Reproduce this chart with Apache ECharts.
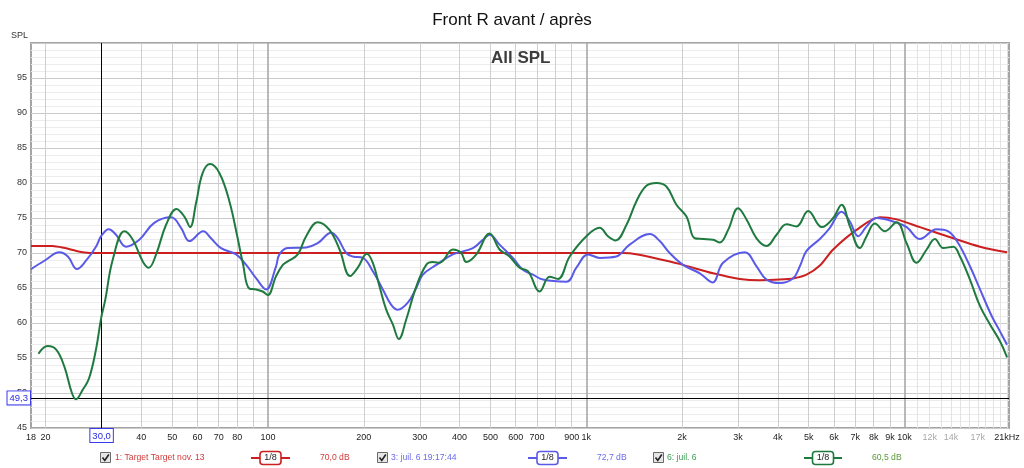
<!DOCTYPE html>
<html><head><meta charset="utf-8">
<script src="https://cdn.jsdelivr.net/npm/echarts@6/dist/echarts.min.js"></script>
<style>html,body{margin:0;padding:0;background:#fff}#c{width:1024px;height:468px}</style>
</head><body><div id="c"></div>
<script>
// ---- data (frequency Hz, SPL dB) ----
const redFreq = [18,21,23,25,27,30,1000,1300,1450,1700,2014,2503,3037,3500,4057,4500,4923,5420,5969,7070,8369,9445,11181,14230,17272,21000];
const redSPL  = [71.0,71.0,70.7,70.3,70.05,70.0,70.0,70.0,69.8,69.1,68.3,67.1,66.3,66.1,66.2,66.4,66.9,68.2,70.5,73.3,75.1,74.8,73.7,72.1,70.9,70.1];

const blueFreq = [18,20,22.1,23.5,25.1,26.8,28.8,29.9,31.6,33.3,35.8,39.4,43.9,49.6,53.3,56.6,62.6,66.2,71.2,79.4,85.4,91.7,98.6,106,108.6,115.3,131.8,143.3,158,165.7,176.1,184.7,198.6,213.5,229.5,243.9,255.8,275,292.3,306.6,337.9,381,440.4,473.4,497,534,588,632,680,731,866,931,1013,1102,1243,1369,1583,1702,1829,2014,2274,2493,2691,3149,3428,3685,4057,4468,4690,4923,5420,5829,6343,6736,7153,7602,8171,9215,10155,11181,12618,13724,14757,16058,17272,18793,19953,21000];
const blueSPL  = [67.7,69.0,70.1,69.5,67.7,68.9,70.9,72.4,73.4,72.6,70.9,71.9,74.3,75.1,73.6,71.7,73.1,72.1,70.7,69.8,68.3,66.4,64.8,68.1,69.8,70.7,70.8,71.4,72.9,72.1,70.0,69.5,69.3,67.4,64.8,62.6,61.9,62.9,65.0,66.9,68.3,69.8,70.7,71.9,72.6,71.2,69.3,67.6,66.9,66.2,65.9,67.9,69.8,69.3,69.5,71.2,72.7,71.7,70.0,68.3,67.1,65.8,68.6,70.1,68.1,66.2,65.7,66.4,68.1,70.3,72.0,73.6,75.9,74.5,72.4,73.8,75.0,74.5,73.7,72.0,73.4,73.1,71.4,68.1,64.8,61.0,58.8,56.9];

const greenFreq = [19,20.3,21.6,22.9,24.2,24.9,26.2,27.4,28.8,29.9,30.8,32.5,35.4,37.6,40.4,42.2,44.5,47.8,51.6,54.6,56.9,59.4,62.3,65.8,70.4,75.6,80.3,83.3,87.4,91.7,96.2,99.8,106,111.3,115.3,124,131.8,143.3,156,167.8,181.2,191.5,204.4,213.5,224.1,235.2,246.7,257.7,271.8,292.3,314.2,329.6,346,381,404.8,419.8,451.4,497,534,574,617,656,714,767,815,887,1001,1102,1170,1237,1337,1438,1545,1662,1786,1920,2065,2193,2328,2503,2628,2791,3000,3188,3428,3685,3962,4259,4579,4980,5500,5969,6343,6736,7241,7602,8072,8677,9445,10155,10917,11738,12465,13237,14230,14938,16058,17272,18562,19953,21000];
const greenSPL  = [55.6,56.7,56.2,53.8,50.0,49.1,50.5,52.1,56.2,60.7,63.3,69.0,73.1,71.9,68.8,67.9,69.8,74.0,76.3,75.2,73.7,77.1,81.4,82.7,81.4,77.4,72.1,68.6,64.9,64.8,64.5,64.0,66.7,68.3,68.8,69.8,72.4,74.4,73.3,70.5,66.7,67.9,69.9,68.6,65.2,61.9,59.8,57.7,60.5,65.2,68.3,68.7,68.6,70.5,70.0,68.7,69.8,72.8,70.5,69.5,67.9,67.4,64.5,66.6,66.3,69.5,72.4,73.6,72.4,71.8,74.0,77.4,79.6,80.0,79.5,76.9,75.2,72.1,72.0,71.9,71.5,73.3,76.4,74.8,72.1,71.0,72.6,74.1,73.8,76.0,73.7,75.0,76.9,73.8,70.7,72.4,74.2,73.1,74.4,71.4,68.6,70.5,72.0,70.7,70.9,69.5,66.2,62.4,59.8,57.4,55.1];

// ---- axes ----
const xLabelValues = [18,20,30,40,50,60,70,80,100,200,300,400,500,600,700,900,1000,2000,3000,4000,5000,6000,7000,8000,9000,10000,12000,14000,17000,21000];
const xGreyLabels = [12000,14000,17000];
const xMinorGrid = [20,30,40,50,60,70,80,90,200,300,400,500,600,700,800,900,2000,3000,4000,5000,6000,7000,8000,9000];
const xDecadeGrid = [100,1000,10000];
const xHighGrid = [11000,12000,13000,14000,15000,16000,17000,18000,19000,20000,21000];
const yTicks = [45,50,55,60,65,70,75,80,85,90,95];

const cursorFreq = 30.0, cursorSPL = 49.3;

const legendItems = [
  {name:'1: Target Target nov. 13', level:'70,0 dB', color:'#cc1f1f', text:'#d03a3a', lvl:'#d03a3a', cb:100, tx:115, wl:251, wr:290, lx:320},
  {name:'3: juil. 6 19:17:44', level:'72,7 dB', color:'#5a5ae8', text:'#6a6aee', lvl:'#6a6aee', cb:377, tx:391, wl:528, wr:567, lx:597},
  {name:'6: juil. 6', level:'60,5 dB', color:'#1f7a3f', text:'#3a9a55', lvl:'#5a9a3a', cb:653, tx:667, wl:804, wr:842, lx:872}
];

const zip = (a,b) => a.map((v,i)=>[v,b[i]]);
const FONT = 'Liberation Sans, Arial, sans-serif';
const XMIN = 18, XMAX = 21300;

function gridSeries(values, color, width){
  return {type:'line', data:[], xAxisIndex:0, silent:true, z:1,
    markLine:{silent:true, z:1, symbol:['none','none'], animation:false, label:{show:false},
      lineStyle:{color:color, width:width, type:'solid'},
      emphasis:{disabled:true},
      data:values.map(v=>({xAxis:v}))}};
}

const graphics = [
  {type:'text', left:11, top:31, style:{text:'SPL', fontSize:9, fill:'#333', font:'9px '+FONT}}
];
const Y = 458;
legendItems.forEach(it=>{
  graphics.push({type:'rect', shape:{x:it.cb+0.5,y:Y-5.5,width:10,height:10}, style:{fill:'#e6e6e6', stroke:'#6a6a6a', lineWidth:1}});
  graphics.push({type:'polyline', shape:{points:[[it.cb+2.5,Y-0.5],[it.cb+4.8,Y+2.5],[it.cb+8.8,Y-3.5]]}, style:{stroke:'#222', lineWidth:1.6, fill:null}});
  graphics.push({type:'text', x:it.tx, y:Y, style:{text:it.name, fill:it.text, font:'8.6px '+FONT, textVerticalAlign:'middle', verticalAlign:'middle'}});
  graphics.push({type:'line', shape:{x1:it.wl,y1:Y,x2:it.wr,y2:Y}, style:{stroke:it.color, lineWidth:2}});
  const bx = (it.wl+it.wr)/2;
  graphics.push({type:'rect', shape:{x:bx-10.5,y:Y-6.5,width:21,height:13,r:3}, style:{fill:'#fff', stroke:it.color, lineWidth:1.6}});
  graphics.push({type:'text', x:bx, y:Y, style:{text:'1/8', fill:'#222', font:'9px '+FONT, align:'center', textAlign:'center', verticalAlign:'middle', textVerticalAlign:'middle'}});
  graphics.push({type:'text', x:it.lx, y:Y, style:{text:it.level, fill:it.lvl, font:'8.6px '+FONT, verticalAlign:'middle', textVerticalAlign:'middle'}});
});

const chart = echarts.init(document.getElementById('c'), null, {renderer:'canvas'});
chart.setOption({
  animation:false,
  backgroundColor:'#fff',
  title:[
    {text:'Front R avant / après', left:'center', top:7, textStyle:{fontSize:17, fontWeight:'normal', color:'#111', fontFamily:FONT}},
    {text:'All SPL', left:486, top:45, textStyle:{fontSize:17, fontWeight:'bold', color:'#3c3c3c', fontFamily:FONT}}
  ],
  grid:{left:31, right:15, top:43, bottom:40, show:true, borderColor:'#a4a4a4', borderWidth:2, backgroundColor:'#fff'},
  xAxis:{type:'log', logBase:10, min:XMIN, max:XMAX, position:'bottom',
      axisLine:{show:false}, axisTick:{show:false, customValues:xLabelValues},
      splitLine:{show:false}, minorSplitLine:{show:false},
      axisLabel:{show:true, customValues:xLabelValues, showMinLabel:true, showMaxLabel:true, hideOverlap:false,
        fontSize:9, color:'#222', fontFamily:FONT, margin:5,
        formatter:function(v){ v=Math.round(v); let s = v===21000 ? '21kHz' : (v>=1000 ? (v/1000)+'k' : String(v));
          return xGreyLabels.indexOf(v)>=0 ? '{g|'+s+'}' : s; },
        rich:{g:{color:'#a8a8a8', fontSize:9, fontFamily:FONT}}}},
  yAxis:{type:'value', min:45, max:100, interval:5,
    axisLine:{show:false}, axisTick:{show:false},
    axisLabel:{fontSize:9, color:'#333', fontFamily:FONT, margin:4,
      formatter:function(v){ return yTicks.indexOf(v)>=0 ? String(v) : ''; }},
    splitLine:{show:true, lineStyle:{color:'#cacaca', width:1}},
    minorTick:{show:false, splitNumber:5},
    minorSplitLine:{show:true, lineStyle:{color:'#ececec', width:1}}},
  series:[
    gridSeries(xHighGrid,'#e2e2e2',1),
    gridSeries(xMinorGrid,'#cfcfcf',1),
    gridSeries(xDecadeGrid,'#a8a8a8',1.6),
    {type:'line', name:'target', xAxisIndex:0, data:zip(redFreq,redSPL), showSymbol:false, smooth:0.3,
      lineStyle:{color:'#cc1f1f', width:2}, itemStyle:{color:'#cc1f1f'}, z:3},
    {type:'line', name:'blue', xAxisIndex:0, data:zip(blueFreq,blueSPL), showSymbol:false, smooth:0.4,
      lineStyle:{color:'#5a5ae8', width:2}, itemStyle:{color:'#5a5ae8'}, z:4},
    {type:'line', name:'green', xAxisIndex:0, data:zip(greenFreq,greenSPL), showSymbol:false, smooth:0.4,
      lineStyle:{color:'#1f7a3f', width:2}, itemStyle:{color:'#1f7a3f'}, z:5,
      markLine:{silent:true, z:2, symbol:['none','none'], animation:false,
        lineStyle:{color:'#000', width:1, type:'solid'},
        data:[
          {xAxis:cursorFreq, label:{show:true, position:'start', distance:1, formatter:'30,0', color:'#2a2ae0', fontSize:9.5, fontFamily:FONT,
            backgroundColor:'#fff', borderColor:'#3a3aee', borderWidth:1, padding:[2,2,1,2]}},
          {yAxis:cursorSPL, label:{show:true, position:'start', distance:1, formatter:'49,3', color:'#2a2ae0', fontSize:9.5, fontFamily:FONT,
            backgroundColor:'#fff', borderColor:'#3a3aee', borderWidth:1, padding:[2,2,1,2]}}
        ]}}
  ],
  graphic:graphics
});
</script></body></html>
